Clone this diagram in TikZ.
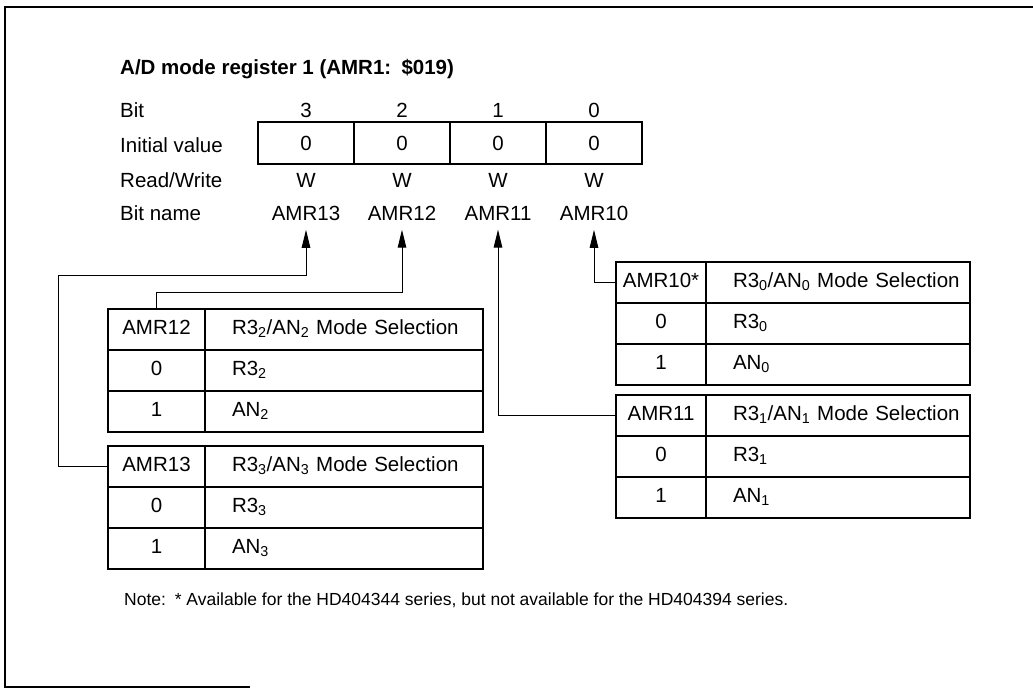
\documentclass[tikz,border=0pt]{standalone}
\usepackage{fontspec}
\setmainfont{Liberation Sans}
\usetikzlibrary{arrows.meta,positioning}

\begin{document}
\begin{tikzpicture}[x=1pt,y=-1pt,
  font=\fontsize{20.5}{24}\selectfont,
  lbl/.style={inner sep=2pt,anchor=west},
  reg/.style={draw,line width=1.1pt,minimum width=96pt,minimum height=42pt,inner sep=0pt,outer sep=0pt},
  selkey/.style={draw,line width=1.1pt,minimum width=#1,minimum height=41pt,text height=14pt,text depth=4pt,inner sep=0pt,outer sep=0pt},
  seldesc/.style={draw,line width=1.1pt,minimum height=41pt,text width=#1,text height=14pt,text depth=4pt,align=left,inner xsep=0pt,inner ysep=0pt,outer sep=0pt,execute at begin node={\hspace*{27pt}}},
  arr/.style={-{Triangle[length=18pt,width=8.5pt]},line width=1pt,shorten >=6pt}]
\useasboundingbox (0,0) rectangle (1033,689);
% frame
\draw[line width=1.8pt] (1033,7) -- (5,7) -- (5,687) -- (250,687);
% register
\node[lbl,font=\fontsize{20.5}{24}\selectfont\bfseries] (title) at (118,69) {A/D mode register 1 (AMR1:\enspace\$019)};
\node[lbl] (rbit)  at (118,110) {Bit};
\node[lbl] (rinit) at (118,145) {Initial value};
\node[lbl] (rrw)   at (118,180) {Read/Write};
\node[lbl] (rname) at (118,213) {Bit name};
\node (n3) at (306,110) {3};
\node (n2) at (402,110) {2};
\node (n1) at (498,110) {1};
\node (n0) at (594,110) {0};
\node[reg] (v3) at (306,143) {0};
\node[reg,right=0pt of v3] (v2) {0};
\node[reg,right=0pt of v2] (v1) {0};
\node[reg,right=0pt of v1] (v0) {0};
\node (w3) at (306,180) {W};
\node (w2) at (402,180) {W};
\node (w1) at (498,180) {W};
\node (w0) at (594,180) {W};
\node (b13) at (306,213) {AMR13};
\node (b12) at (402,213) {AMR12};
\node (b11) at (498,213) {AMR11};
\node (b10) at (594,213) {AMR10};
% AMR12 table
\node[selkey=97pt,anchor=north west] (h12) at (108,309) {AMR12};
\node[seldesc=278pt,right=0pt of h12] (d12) {R3\textsubscript{2}/AN\textsubscript{2} Mode Selection};
\node[selkey=97pt,below=0pt of h12] (k12a) {0};
\node[seldesc=278pt,right=0pt of k12a] (d12a) {R3\textsubscript{2}};
\node[selkey=97pt,below=0pt of k12a] (k12b) {1};
\node[seldesc=278pt,right=0pt of k12b] (d12b) {AN\textsubscript{2}};
% AMR13 table
\node[selkey=97pt,anchor=north west] (h13) at (108,446) {AMR13};
\node[seldesc=278pt,right=0pt of h13] (d13) {R3\textsubscript{3}/AN\textsubscript{3} Mode Selection};
\node[selkey=97pt,below=0pt of h13] (k13a) {0};
\node[seldesc=278pt,right=0pt of k13a] (d13a) {R3\textsubscript{3}};
\node[selkey=97pt,below=0pt of k13a] (k13b) {1};
\node[seldesc=278pt,right=0pt of k13b] (d13b) {AN\textsubscript{3}};
% AMR10 table
\node[selkey=90pt,anchor=north west] (h10) at (616,262) {AMR10*};
\node[seldesc=264pt,right=0pt of h10] (d10) {R3\textsubscript{0}/AN\textsubscript{0} Mode Selection};
\node[selkey=90pt,below=0pt of h10] (k10a) {0};
\node[seldesc=264pt,right=0pt of k10a] (d10a) {R3\textsubscript{0}};
\node[selkey=90pt,below=0pt of k10a] (k10b) {1};
\node[seldesc=264pt,right=0pt of k10b] (d10b) {AN\textsubscript{0}};
% AMR11 table
\node[selkey=90pt,anchor=north west] (h11) at (616,395) {AMR11};
\node[seldesc=264pt,right=0pt of h11] (d11) {R3\textsubscript{1}/AN\textsubscript{1} Mode Selection};
\node[selkey=90pt,below=0pt of h11] (k11a) {0};
\node[seldesc=264pt,right=0pt of k11a] (d11a) {R3\textsubscript{1}};
\node[selkey=90pt,below=0pt of k11a] (k11b) {1};
\node[seldesc=264pt,right=0pt of k11b] (d11b) {AN\textsubscript{1}};
% bit connectors
\draw[arr] (h13.west) -| (58,275) -| (b13.south);
\draw[arr] (h12.north) |- (402,292) -- (b12.south);
\draw[arr] (h11.west) -| (b11.south);
\draw[arr] (h10.west) -| (b10.south);
% note
\node[lbl,font=\fontsize{17.5}{21}\selectfont] (note) at (122,600) {Note:\enspace * Available for the HD404344 series, but not available for the HD404394 series.};
\end{tikzpicture}
\end{document}
